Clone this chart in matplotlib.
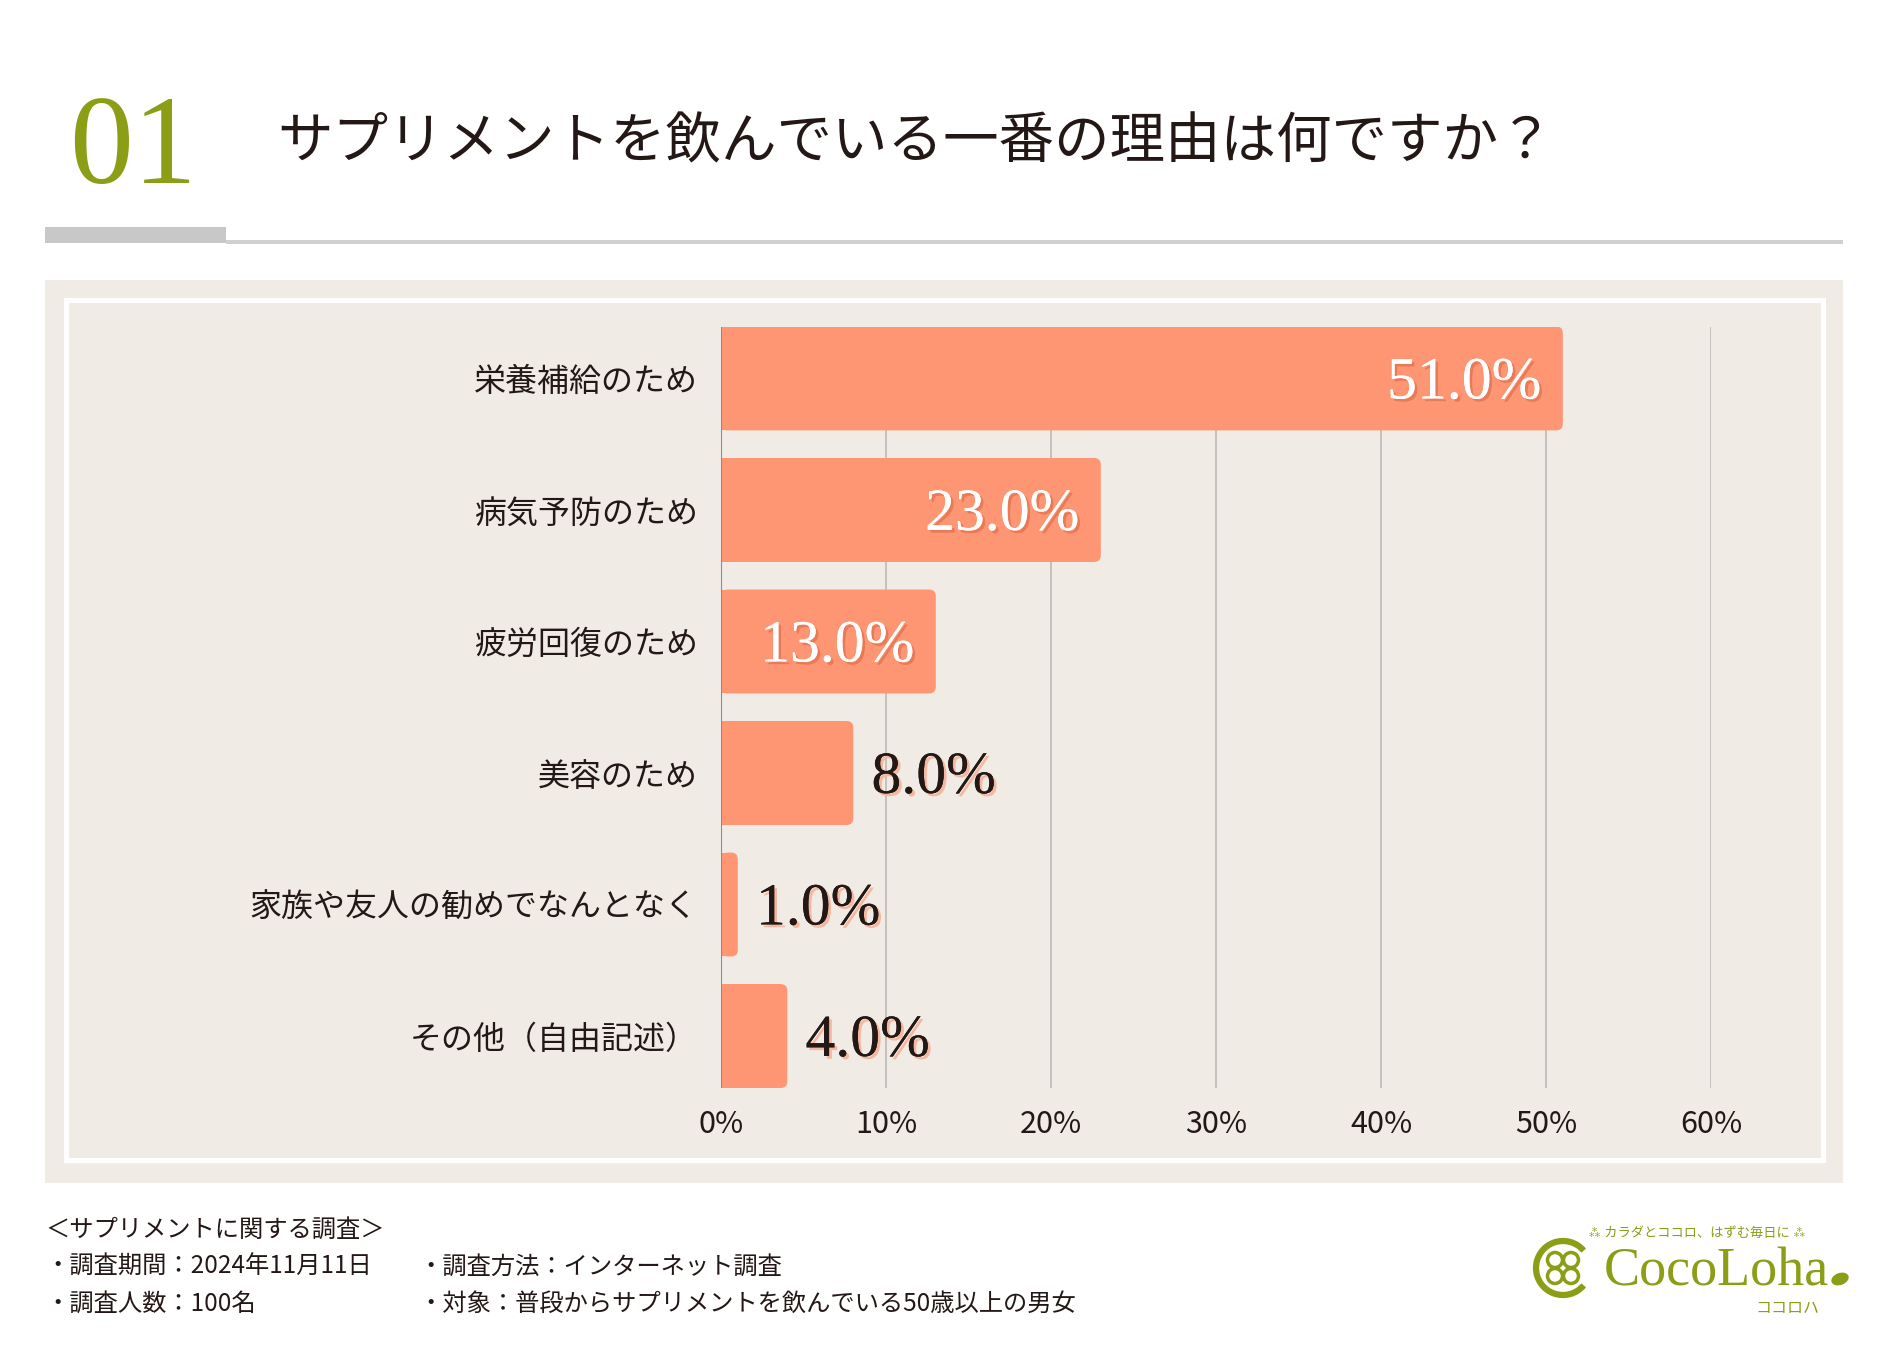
import matplotlib
matplotlib.use("Agg")
from matplotlib import pyplot as plt
from matplotlib import patches
from matplotlib import patheffects as pe

plt.rcParams['font.family'] = ['Noto Sans CJK JP', 'DejaVu Sans']

# data
categories = ['栄養補給のため', '病気予防のため', '疲労回復のため', '美容のため',
              '家族や友人の勧めでなんとなく', 'その他（自由記述）']
values = [51.0, 23.0, 13.0, 8.0, 1.0, 4.0]
xticks = [0, 10, 20, 30, 40, 50, 60]
xtick_labels = ['0%', '10%', '20%', '30%', '40%', '50%', '60%']

number = '01'
title = 'サプリメントを飲んでいる一番の理由は何ですか？'
survey_head = '＜サプリメントに関する調査＞'
survey_left = ['・調査期間：2024年11月11日', '・調査人数：100名']
survey_right = ['・調査方法：インターネット調査', '・対象：普段からサプリメントを飲んでいる50歳以上の男女']

W, H = 1890, 1350
DARK = '#231815'
BAR = '#FF9673'
GREEN = '#8C9D16'

fig = plt.figure(figsize=(W / 100, H / 100), dpi=100)
fig.patch.set_facecolor('white')

# background layer in pixel coordinates
bg = fig.add_axes([0, 0, 1, 1])
bg.set_xlim(0, W)
bg.set_ylim(H, 0)
bg.axis('off')

bg.text(69, 183, number, fontsize=92, color=GREEN, family='Liberation Serif',
        ha='left', va='baseline')
bg.text(277, 143, title, fontsize=40, color=DARK, ha='left', va='center')

bg.add_patch(patches.Rectangle((45, 227), 181, 16, color='#C8C8C8', lw=0))
bg.add_patch(patches.Rectangle((226, 240), 1617, 4, color='#D0D0D0', lw=0))

bg.add_patch(patches.Rectangle((45, 280), 1798, 903, color='#F0EBE5', lw=0))
bg.add_patch(patches.Rectangle((66, 300), 1757, 860, fill=False,
                               edgecolor='white', lw=3.6))

# footer
bg.text(45, 1230, survey_head, fontsize=17.5, color=DARK, va='center')
for i, (l, r) in enumerate(zip(survey_left, survey_right)):
    bg.text(45, 1267 + i * 37, l, fontsize=17.5, color=DARK, va='center')
    bg.text(418, 1267 + i * 37, r, fontsize=17.5, color=DARK, va='center')

# logo
bg.text(1697, 1233, '⁂ カラダとココロ、はずむ毎日に ⁂', fontsize=9.5, color=GREEN,
        ha='center', va='center')
bg.text(1604, 1285, 'CocoLoha', fontsize=39, color=GREEN, family='Liberation Serif',
        ha='left', va='baseline')
bg.add_patch(patches.Ellipse((1840, 1279), 18, 12, angle=-20, color=GREEN, lw=0))
bg.text(1787, 1309, 'ココロハ', fontsize=11.5, color=GREEN, ha='center', va='center')
bg.add_patch(patches.Arc((1563, 1268), 54, 54, theta1=40, theta2=320,
                         color=GREEN, lw=4.5))
for dx, dy in [(-8, -8), (8, -8), (-8, 8), (8, 8)]:
    bg.add_patch(patches.Ellipse((1563 + dx, 1268 + dy), 15, 15, fill=False,
                                 edgecolor=GREEN, lw=2.5))

# bar chart
x0, x60, ytop, ybot = 721.3, 1711.3, 326.5, 1088.0
ax = fig.add_axes([x0 / W, 1 - ybot / H, (x60 - x0) / W, (ybot - ytop) / H])
ax.set_facecolor('none')
ypos = list(range(len(categories)))
bar_h = 0.79
ax.set_ylim(len(categories) - 1 + bar_h / 2, -bar_h / 2)
ax.set_xlim(0, 60)

# rounded right end: plain body plus a rounded box
px_per_x = (x60 - x0) / 60
px_per_y = (ybot - ytop) / (len(categories) - 1 + bar_h)
r = 0.4
ax.barh(ypos, [v - r for v in values], height=bar_h, color=BAR, zorder=3)
for y, v in zip(ypos, values):
    ax.add_patch(patches.FancyBboxPatch(
        (0, y - bar_h / 2), v, bar_h,
        boxstyle=f'round,pad=0,rounding_size={r}',
        mutation_aspect=px_per_x / px_per_y, color=BAR, lw=0, zorder=3))

ax.set_xticks(xticks)
ax.set_xticklabels(xtick_labels, fontsize=22, color=DARK)
ax.set_yticks(ypos)
ax.set_yticklabels(categories, fontsize=23, color=DARK)
ax.tick_params(axis='both', length=0)
ax.tick_params(axis='x', pad=15)
ax.tick_params(axis='y', pad=17)
for s in ax.spines.values():
    s.set_visible(False)
ax.grid(axis='x', color='#BDBAB5', lw=1.2, zorder=0)
ax.axvline(0, color='#8A8A8A', lw=1.5, zorder=4)

inside_fx = [pe.withSimplePatchShadow(offset=(2, -2), shadow_rgbFace='#E97A58', alpha=1),
             pe.Normal()]
outside_fx = [pe.withSimplePatchShadow(offset=(2, -2), shadow_rgbFace='#F6B7A0', alpha=1),
              pe.Normal()]
dy_lbl = 0.045
for y, v in zip(ypos, values):
    label = f'{v:.1f}%'
    if v >= 10:
        ax.text(v - 1.3, y + dy_lbl, label, ha='right', va='center', fontsize=43,
                family='Liberation Serif', color='white', path_effects=inside_fx, zorder=5)
    else:
        ax.text(v + 1.1, y + dy_lbl, label, ha='left', va='center', fontsize=43,
                family='Liberation Serif', color=DARK, path_effects=outside_fx, zorder=5)

fig.savefig('out.png', dpi=100, facecolor='white')
